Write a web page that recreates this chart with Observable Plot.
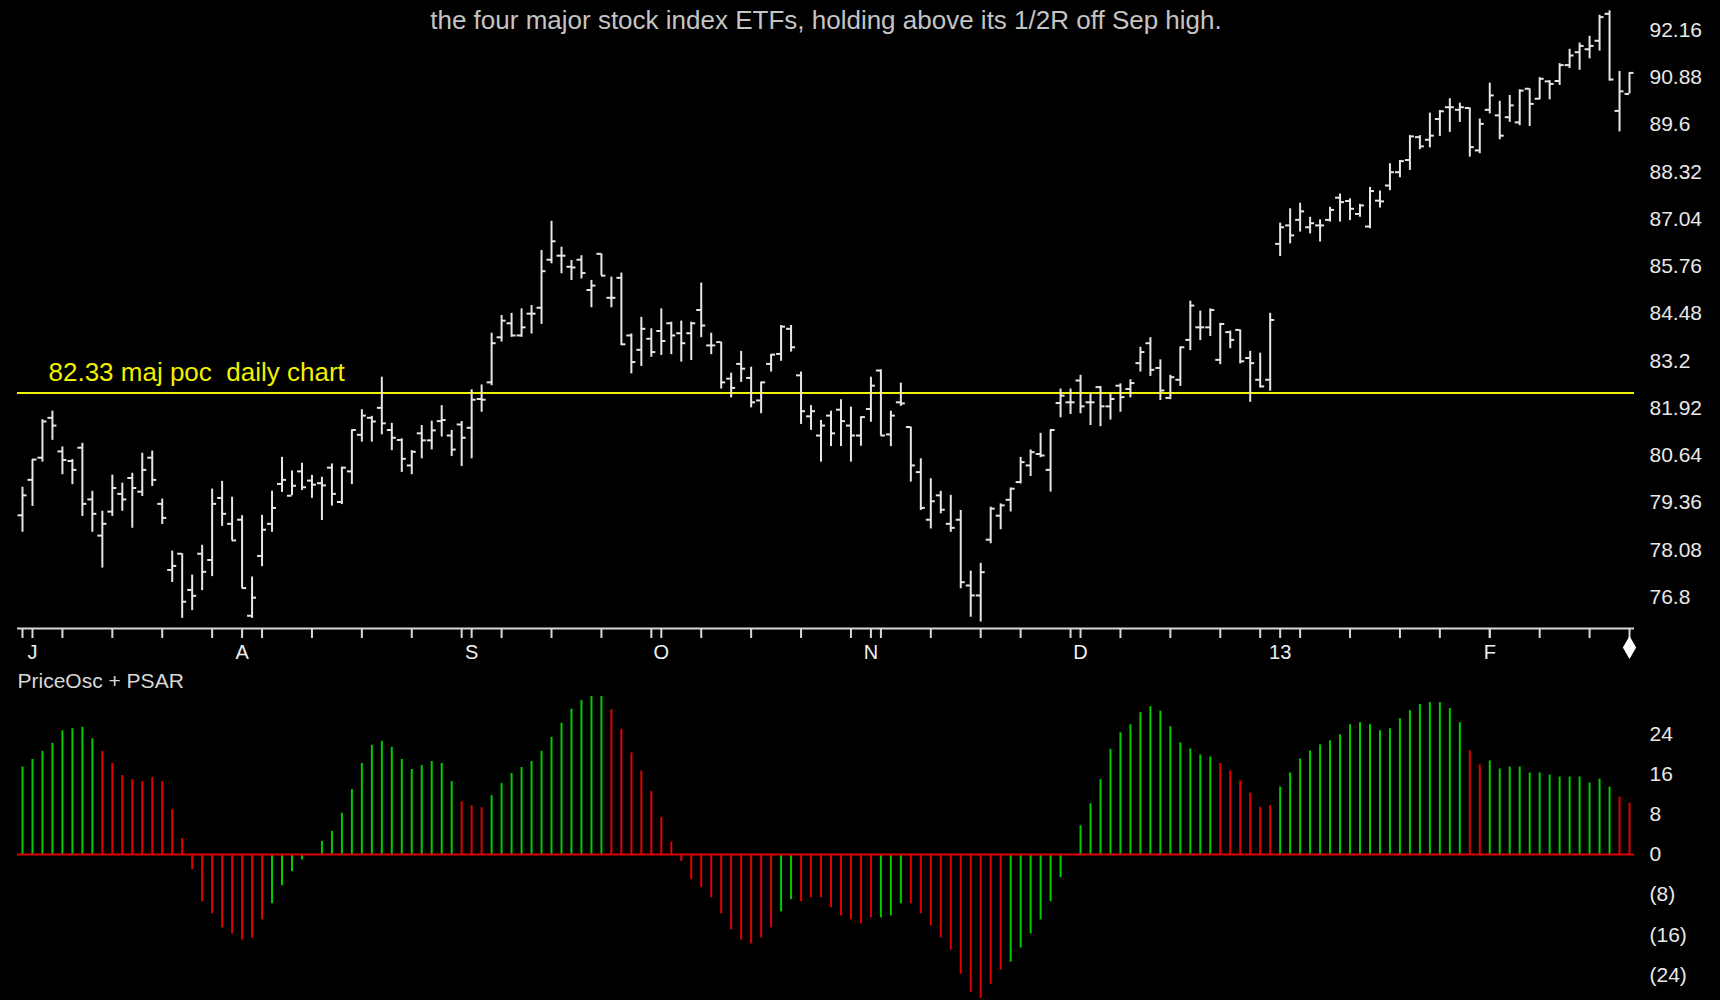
<!DOCTYPE html>
<html>
<head>
<meta charset="utf-8">
<script src="https://cdn.jsdelivr.net/npm/d3@7"></script>
<script src="https://cdn.jsdelivr.net/npm/@observablehq/plot@0.6"></script>
<style>
html, body { margin: 0; padding: 0; background: #000; }
#chart { position: relative; width: 1720px; height: 1000px; background: #000; overflow: hidden; }
#chart svg { display: block; }
</style>
</head>
<body>
<div id="chart"></div>
<script>
// ---------- DATA (daily bars, index 0 = Jun 29 2012 ... 161 = Feb 22 2013) ----------
const openP = [
79.02,79.98,80.58,81.66,80.75,80.49,80.85,79.45,78.47,79.12,
79.60,80.03,79.66,80.58,79.33,77.54,77.98,77.00,77.98,77.81,
79.49,78.79,78.90,76.30,77.92,78.79,79.87,79.55,80.21,79.96,
79.89,80.31,79.38,80.21,81.20,81.66,81.93,81.33,81.06,80.37,
81.24,81.05,81.57,81.18,81.48,81.39,82.17,82.62,83.84,84.22,
83.89,84.48,84.64,85.94,86.05,85.75,85.94,85.12,86.10,84.91,
85.45,83.89,83.50,83.80,84.01,84.22,83.95,83.95,84.58,83.62,
83.71,82.72,83.12,82.74,82.13,83.12,83.39,84.07,82.81,81.70,
81.18,81.72,81.88,81.45,81.18,81.90,82.94,81.21,82.08,81.41,
80.19,78.90,79.56,78.79,78.90,77.12,76.85,78.36,79.01,79.44,
79.92,80.37,80.68,80.25,82.06,82.08,82.67,82.08,82.49,81.97,
82.53,82.44,83.14,83.68,83.01,82.20,82.69,83.77,84.11,84.11,
83.23,83.98,84.04,83.28,82.69,82.69,86.37,86.87,87.02,86.82,
86.87,87.02,87.62,87.53,87.18,86.84,87.54,87.95,88.31,88.64,
89.26,89.19,89.75,90.07,90.00,90.05,88.90,90.00,89.85,89.80,
89.66,90.57,90.30,90.77,90.78,91.21,91.56,91.64,91.87,92.60,
89.97,90.43];
const highP = [
79.78,80.53,81.61,81.84,80.87,80.53,80.97,79.67,79.13,80.11,
79.89,80.16,80.70,80.76,79.46,78.05,77.98,77.40,78.21,79.73,
79.94,79.51,79.01,77.35,79.02,79.67,80.59,80.22,80.43,80.10,
80.05,80.41,80.32,81.33,81.88,81.70,82.76,81.51,81.09,80.77,
81.45,81.57,81.99,81.32,81.56,82.42,82.55,83.95,84.43,84.49,
84.61,84.70,86.19,86.98,86.28,85.92,86.05,85.38,86.10,85.47,
85.58,83.93,84.38,84.07,84.61,84.25,84.28,84.25,85.31,83.95,
83.71,82.87,83.46,83.03,82.62,83.37,84.16,84.16,82.90,81.99,
81.59,81.84,82.15,81.95,81.68,82.76,82.96,81.84,82.60,81.41,
80.55,80.01,79.67,79.56,79.15,77.51,77.72,79.24,79.33,79.76,
80.59,80.79,81.24,81.33,82.44,82.44,82.81,82.31,82.51,82.33,
82.58,82.69,83.57,83.83,83.23,82.81,83.57,84.82,84.55,84.61,
84.22,84.01,84.04,83.46,83.41,84.49,86.93,87.32,87.47,87.09,
87.02,87.36,87.72,87.59,87.44,87.90,87.80,88.54,88.63,89.30,
89.30,89.91,89.98,90.30,90.18,90.05,89.75,90.72,90.23,90.39,
90.54,90.57,90.87,90.79,91.25,91.64,91.81,91.99,92.56,92.68,
91.04,91.00];
const lowP = [
78.56,79.26,80.46,81.05,80.12,79.85,78.99,78.56,77.59,78.99,
79.13,78.67,79.53,79.80,78.77,77.20,76.23,76.44,76.98,77.36,
78.72,78.34,77.05,76.23,77.63,78.56,79.64,79.55,79.69,79.48,
78.88,79.27,79.31,79.85,81.00,81.00,81.20,80.77,80.18,80.12,
80.55,80.79,81.14,80.61,80.34,80.55,81.81,82.53,83.71,83.84,
83.84,83.93,84.19,85.83,85.56,85.38,85.42,84.64,85.51,84.64,
83.62,82.85,83.05,83.30,83.35,83.37,83.17,83.21,83.83,83.37,
82.44,82.20,82.62,81.93,81.77,82.90,83.19,83.44,81.48,81.32,
80.46,80.88,80.88,80.46,80.89,81.54,81.18,80.88,81.97,79.92,
79.15,78.65,79.06,78.56,77.03,76.26,76.13,78.25,78.63,79.11,
79.87,80.07,80.58,79.65,81.66,81.75,81.77,81.45,81.42,81.60,
81.81,82.20,82.90,82.78,82.13,82.15,82.51,83.48,83.75,83.86,
83.10,83.53,83.12,82.08,82.47,82.38,86.03,86.37,86.69,86.64,
86.42,86.96,86.96,87.00,87.09,86.78,87.34,87.81,88.16,88.36,
88.92,88.97,89.28,89.39,89.66,88.72,88.81,89.89,89.19,89.66,
89.57,89.55,90.27,90.27,90.66,91.12,91.07,91.38,91.59,90.78,
89.40,90.43];
const closeP = [
79.56,80.53,81.56,81.45,80.52,80.25,79.33,79.06,78.79,79.76,
79.45,79.76,80.25,79.98,78.95,77.65,76.68,76.84,77.49,79.33,
79.06,78.34,77.05,76.79,78.63,79.22,79.98,79.82,79.78,79.85,
79.83,79.60,80.31,81.33,81.72,81.56,81.51,81.12,80.55,80.74,
81.05,81.32,81.60,80.80,81.12,82.15,82.15,83.68,84.29,83.89,
84.11,84.48,85.63,86.44,86.05,85.73,85.58,85.24,85.51,84.91,
83.65,83.17,84.07,83.44,83.74,83.89,83.68,84.22,84.16,83.62,
82.62,82.47,82.99,82.08,82.62,83.37,84.13,83.57,81.84,81.84,
81.45,81.24,81.57,81.18,81.68,82.53,81.18,81.72,82.05,80.37,
79.22,79.40,79.17,78.68,77.21,76.85,77.48,79.20,79.29,79.74,
80.46,80.73,80.64,81.33,82.26,82.08,81.97,82.08,81.97,82.17,
82.22,82.60,83.44,82.96,82.40,82.76,83.57,84.70,84.11,84.58,
84.20,83.77,83.19,83.14,82.51,84.31,86.82,86.60,87.25,86.93,
86.87,87.29,87.50,87.32,87.41,87.80,87.52,88.31,88.61,89.28,
89.01,89.30,89.96,90.07,90.07,88.99,89.62,90.39,89.30,90.12,
90.52,90.16,90.84,90.70,91.21,91.47,91.73,91.73,92.51,90.82,
90.50,91.00];

// PriceOsc histogram values and PSAR state (G = long / green, R = short / red)
const oscValues = [
17.4,18.9,20.5,22.1,24.6,25.0,25.3,23.0,20.5,18.1,
15.7,14.9,14.5,15.3,14.5,8.9,3.2,-3.0,-9.4,-11.8,
-14.6,-15.8,-17.0,-16.6,-13.0,-9.8,-6.2,-3.4,-1.1,0,
2.6,4.6,8.2,12.9,18.1,21.7,22.5,21.3,18.9,16.9,
17.7,18.5,18.1,14.5,10.5,9.7,9.3,11.7,14.1,16.1,
17.3,18.5,20.5,23.3,26.1,28.9,30.6,31.4,31.4,28.8,
24.9,20.2,16.6,12.5,7.4,2.5,-1.4,-5.0,-6.6,-8.6,
-11.8,-15.0,-17.0,-17.8,-16.6,-14.6,-11.4,-9.0,-9.4,-8.6,
-8.6,-10.6,-12.2,-13.0,-13.8,-12.6,-12.6,-12.2,-9.8,-9.8,
-11.8,-14.2,-16.6,-19.0,-23.8,-27.4,-28.6,-25.8,-23.0,-21.4,
-18.6,-15.8,-13.0,-9.4,-4.6,0,5.7,10.1,14.9,20.9,
24.2,25.8,28.2,29.4,28.5,25.4,22.2,21.0,19.8,19.4,
18.1,16.6,14.6,12.2,9.4,9.7,13.4,16.2,19.0,20.6,
21.8,22.6,23.8,25.8,26.2,25.8,24.6,25.0,27.0,28.6,
29.8,30.2,30.2,29.0,26.2,20.6,17.8,18.6,17.0,17.4,
17.4,16.2,16.2,15.8,15.4,15.4,15.4,14.2,15.0,13.4,
11.4,10.2];
const psarState = (
  "GGGGGGGG" + "RRRRRRRRRRRRRRRRR" + "GGGGGGGGGGGGGGGGGGG" + "RRR" +
  "GGGGGGGGGGGG" + "RRRRRRRRRRRRRRRRR" + "GG" + "RRRRRRRR" + "GGG" +
  "RRRRRRRRRR" + "GGGGGGGGGGGGGGGGGGGGG" + "RRRRRR" +
  "GGGGGGGGGGGGGGGGGGG" + "RR" + "GGGGGGGGGGGGG" + "RR").split("");

// axis ticks and labels
const monthLabels = ["J", "A", "S", "O", "N", "D", "13", "F"];
const monthStartIdx = [1, 22, 45, 64, 85, 106, 126, 147];
const weekEndIdx = [0,4,9,14,19,24,29,34,39,44,48,53,58,63,68,73,78,83,86,91,96,100,105,110,115,120,124,128,133,138,142,147,152,157,161];
const priceTicks = [76.8, 78.08, 79.36, 80.64, 81.92, 83.2, 84.48, 85.76, 87.04, 88.32, 89.6, 90.88, 92.16];
const oscTicks = [-24, -16, -8, 0, 8, 16, 24];
const pocLevel = 82.33;
const pocLabel = "82.33 maj poc\u00a0\u00a0daily chart";
const headline = "the four major stock index ETFs, holding above its 1/2R off Sep high.";
const oscTitle = "PriceOsc + PSAR";

// ---------- CHART ----------
const N = closeP.length;
const bars = d3.range(N).map(i => ({i, o: openP[i], h: highP[i], l: lowP[i], c: closeP[i]}));
const osc = d3.range(N).map(i => ({i, v: oscValues[i], s: psarState[i]}));

const FONT = "'Liberation Sans', Arial, sans-serif";
const barColor = "#e6e6e6";
const green = "#00cc00";
const red = "#e00000";
const priceDomain = [75.955, 92.96];
const xBand = {type: "band", domain: d3.range(N), padding: 0, align: 0.5, label: null};

const pricePlot = Plot.plot({
  width: 1720, height: 668,
  marginLeft: 17, marginRight: 86, marginTop: 0, marginBottom: 40,
  style: {background: "#000", color: "#e8e8e8", fontFamily: FONT, fontSize: "21px", overflow: "visible"},
  x: xBand,
  y: {domain: priceDomain, label: null},
  marks: [
    Plot.ruleY([priceDomain[0]], {stroke: "#d8d8d8", strokeWidth: 2}),
    Plot.axisX({ticks: weekEndIdx, tickSize: 10, tickFormat: () => "", strokeWidth: 2, stroke: "#d8d8d8", label: null}),
    Plot.axisX({ticks: monthStartIdx, tickSize: 10, tickPadding: 6, strokeWidth: 2, stroke: "#d8d8d8", label: null,
      tickFormat: d => monthLabels[monthStartIdx.indexOf(d)], fontSize: 20, fill: "#f0f0f0"}),
    Plot.axisY({anchor: "right", ticks: priceTicks, tickSize: 0, tickPadding: 15, label: null,
      tickFormat: d => `${d}`, fill: "#e8e8e8"}),
    Plot.ruleY([pocLevel], {stroke: "#f0f000", strokeWidth: 2}),
    Plot.text([pocLevel], {y: d => d, text: () => pocLabel, frameAnchor: "left", dx: 31, dy: -20,
      textAnchor: "start", lineAnchor: "middle", fill: "#f0f000", fontSize: 26}),
    Plot.text([headline], {text: d => d, frameAnchor: "top", dy: 20, lineAnchor: "middle",
      fill: "#c4c4c4", fontSize: 26}),
    Plot.ruleX(bars, {x: "i", y1: "l", y2: "h", stroke: barColor, strokeWidth: 2}),
    Plot.tickY(bars, {x: "i", y: "o", stroke: barColor, strokeWidth: 2, insetLeft: 0.5, insetRight: 5}),
    Plot.tickY(bars, {x: "i", y: "c", stroke: barColor, strokeWidth: 2, insetLeft: 5, insetRight: 0.5}),
    Plot.dot([N - 1], {x: d => d, frameAnchor: "bottom", dy: 19, symbol: "diamond", r: 7, fill: "#ffffff", stroke: null})
  ]
});

const oscPlot = Plot.plot({
  width: 1720, height: 332,
  marginLeft: 17, marginRight: 86, marginTop: 0, marginBottom: 0,
  style: {background: "#000", color: "#e8e8e8", fontFamily: FONT, fontSize: "21px", overflow: "visible"},
  x: {...xBand, axis: null},
  y: {domain: [-29.03, 36.98], label: null},
  marks: [
    Plot.ruleX(osc, {x: "i", y1: 0, y2: "v", stroke: d => d.s === "G" ? green : red, strokeWidth: 2}),
    Plot.ruleY([0], {stroke: red, strokeWidth: 2}),
    Plot.axisY({anchor: "right", ticks: oscTicks, tickSize: 0, tickPadding: 15, label: null,
      tickFormat: d => d < 0 ? `(${-d})` : `${d}`, fill: "#e8e8e8"}),
    Plot.text([oscTitle], {text: d => d, frameAnchor: "top-left", dy: 13, textAnchor: "start",
      lineAnchor: "middle", fill: "#d8d8d8", fontSize: 21})
  ]
});

const host = document.getElementById("chart");
host.appendChild(pricePlot);
host.appendChild(oscPlot);
</script>
</body>
</html>
